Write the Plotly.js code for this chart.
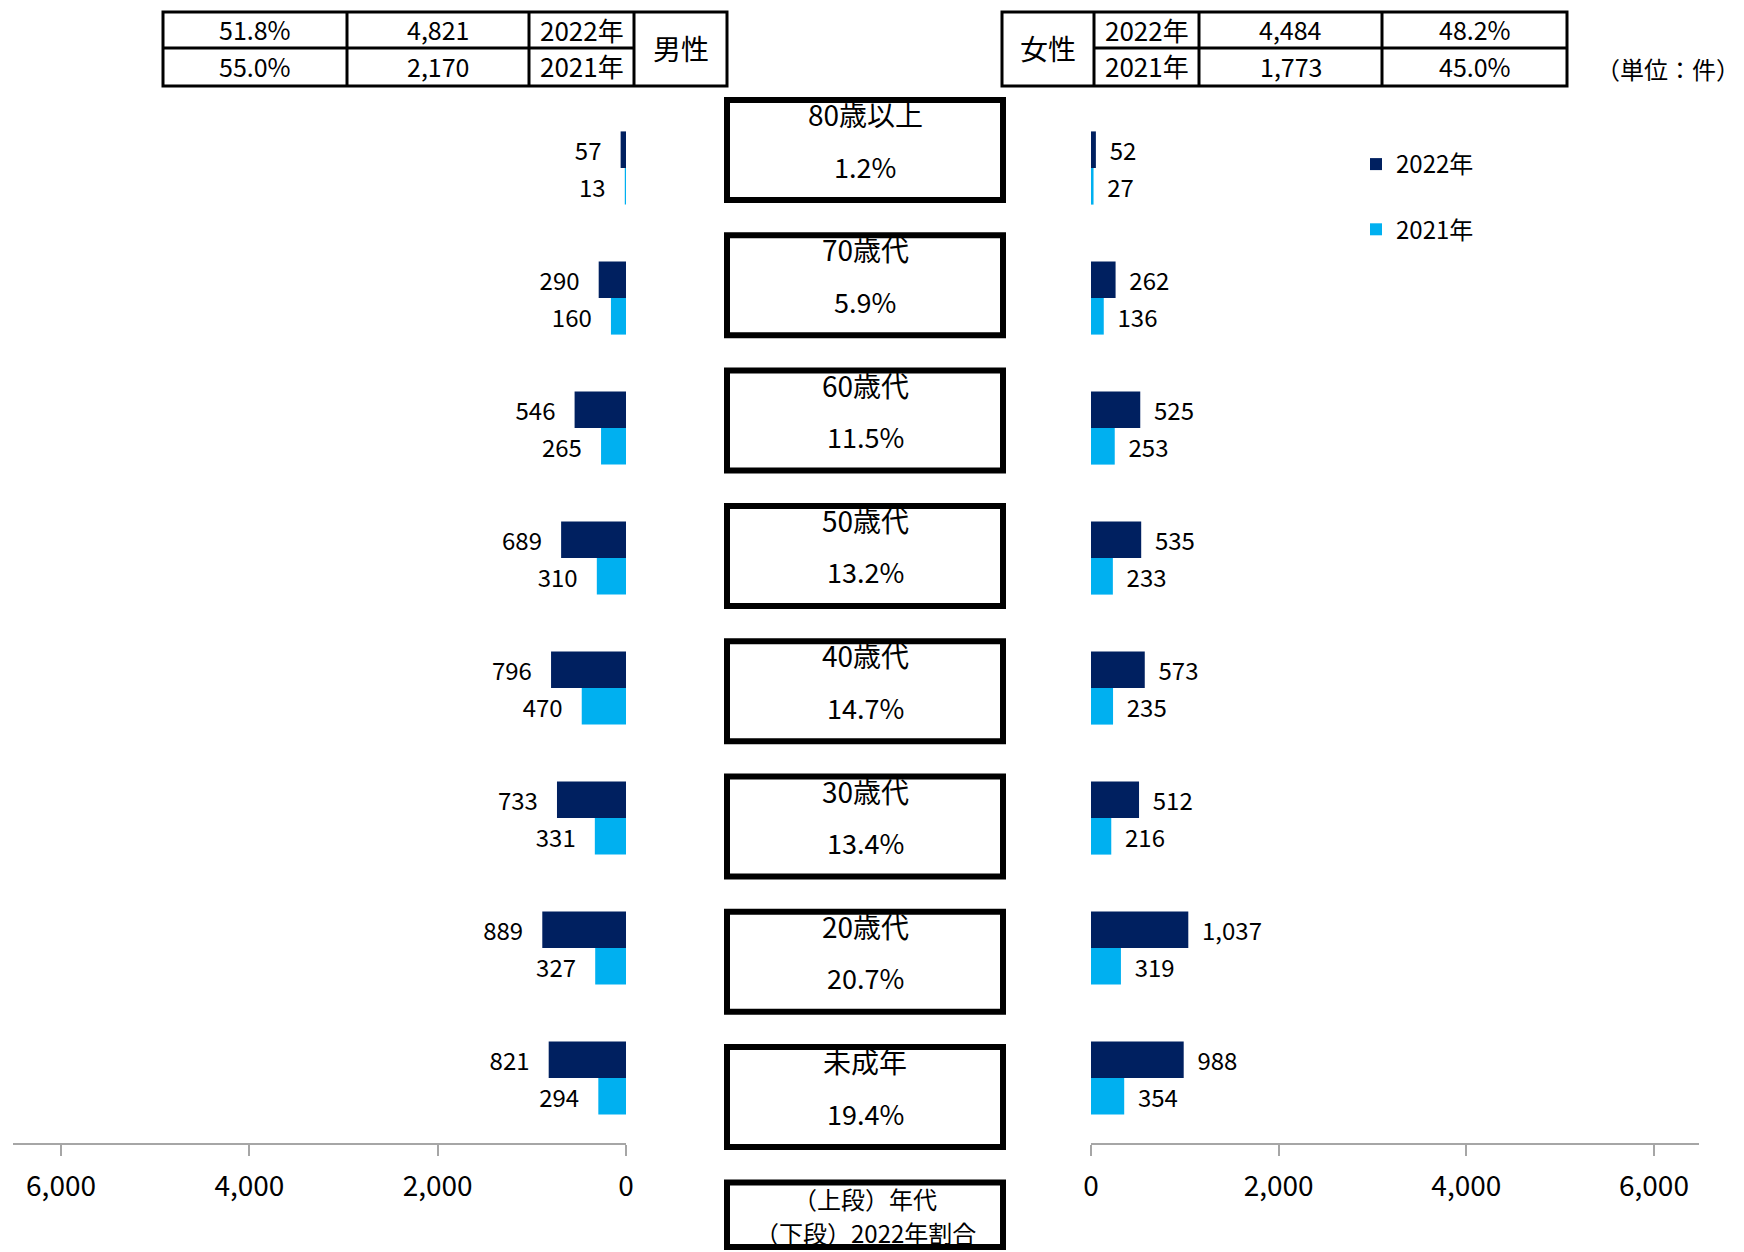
<!DOCTYPE html>
<html>
<head>
<meta charset="utf-8">
<script src="https://cdn.plot.ly/plotly-3.0.1.min.js"></script>
<style>html,body{margin:0;padding:0;background:#fff;}#chart{width:1744px;height:1252px;}</style>
</head>
<body>
<div id="chart"></div>
<script>
// ---- data ----
const categories = ["80歳以上","70歳代","60歳代","50歳代","40歳代","30歳代","20歳代","未成年"];
const share2022 = ["1.2%","5.9%","11.5%","13.2%","14.7%","13.4%","20.7%","19.4%"];
const male2022 = [57, 290, 546, 689, 796, 733, 889, 821];
const male2021 = [13, 160, 265, 310, 470, 331, 327, 294];
const female2022 = [52, 262, 525, 535, 573, 512, 1037, 988];
const female2021 = [27, 136, 253, 233, 235, 216, 319, 354];
const years = ["2022年","2021年"];
const maleTotals = [4821, 2170];
const maleShare = ["51.8%","55.0%"];
const femaleTotals = [4484, 1773];
const femaleShare = ["48.2%","45.0%"];
const tickVals = [0, 2000, 4000, 6000];
const legendBoxLines = ["（上段）年代","（下段）2022年割合"];
const unitText = "（単位：件）";

// ---- style ----
const W = 1744, H = 1252;
const C22 = "#002060", C21 = "#00b0f0";
const FONT = "Noto Sans CJK JP, Noto Sans, sans-serif";
const px = x => x / W;
const py = y => 1 - y / H;
const NBL = "\u00a0\u00a0\u00a0";
const NBR = "\u00a0\u00a0";

const traces = [
  {type:"bar", orientation:"h", name:years[0], x:male2022, y:categories, xaxis:"x", yaxis:"y",
   marker:{color:C22}, texttemplate:"%{x:,}"+NBL, textposition:"outside",
   showlegend:false, hoverinfo:"skip"},
  {type:"bar", orientation:"h", name:years[1], x:male2021, y:categories, xaxis:"x", yaxis:"y",
   marker:{color:C21}, texttemplate:"%{x:,}"+NBL, textposition:"outside",
   showlegend:false, hoverinfo:"skip"},
  {type:"bar", orientation:"h", name:years[0], x:female2022, y:categories, xaxis:"x2", yaxis:"y",
   marker:{color:C22}, texttemplate:NBR+"%{x:,}", textposition:"outside",
   legendgroup:"a", showlegend:true, hoverinfo:"skip"},
  {type:"bar", orientation:"h", name:years[1], x:female2021, y:categories, xaxis:"x2", yaxis:"y",
   marker:{color:C21}, texttemplate:NBR+"%{x:,}", textposition:"outside",
   legendgroup:"b", showlegend:true, hoverinfo:"skip"}
];
traces.forEach(t => { t.textfont = {size:24, color:"#000", family:FONT}; t.cliponaxis = false; t.constraintext = "none"; });

const axisStyle = {
  tickvals: tickVals, tickformat: ",", showgrid:false, zeroline:false,
  showline:true, linecolor:"#a6a6a6", linewidth:2,
  ticks:"outside", ticklen:11, tickwidth:2, tickcolor:"#a6a6a6",
  tickfont:{size:28, color:"#000", family:FONT}, ticklabelstandoff:6,
  anchor:"y", fixedrange:true
};

const shapes = [];
const annotations = [];

// center boxes
const boxTop0 = 97, boxPitch = 135.3;
categories.forEach((c, i) => {
  const top = boxTop0 + i * boxPitch;
  shapes.push({type:"rect", xref:"paper", yref:"paper", x0:px(727), x1:px(1003), y0:py(top+3), y1:py(top+103),
    line:{color:"#000", width:6}, fillcolor:"rgba(0,0,0,0)"});
  annotations.push({xref:"paper", yref:"paper", x:px(865), y:py(top+17), text:c, showarrow:false,
    xanchor:"center", yanchor:"middle", font:{size:28, color:"#000", family:FONT}});
  annotations.push({xref:"paper", yref:"paper", x:px(865), y:py(top+69), text:share2022[i], showarrow:false,
    xanchor:"center", yanchor:"middle", font:{size:27, color:"#000", family:FONT}});
});
// legend box at bottom
{
  const top = boxTop0 + categories.length * boxPitch;
  shapes.push({type:"rect", xref:"paper", yref:"paper", x0:px(727), x1:px(1003), y0:py(top+3), y1:py(1247),
    line:{color:"#000", width:6}, fillcolor:"rgba(0,0,0,0)"});
  annotations.push({xref:"paper", yref:"paper", x:px(865), y:py(1198), text:legendBoxLines[0], showarrow:false,
    xanchor:"center", yanchor:"middle", font:{size:24, color:"#000", family:FONT}});
  annotations.push({xref:"paper", yref:"paper", x:px(865), y:py(1232), text:legendBoxLines[1], showarrow:false,
    xanchor:"center", yanchor:"middle", font:{size:24, color:"#000", family:FONT}});
}

// tables
const tFont = {size:25, color:"#000", family:FONT};
function line(x0,y0,x1,y1){ shapes.push({type:"line", xref:"paper", yref:"paper", x0:px(x0), y0:py(y0), x1:px(x1), y1:py(y1), line:{color:"#000", width:3}}); }
function txt(x,y,t,f){ annotations.push({xref:"paper", yref:"paper", x:px(x), y:py(y), text:t, showarrow:false, xanchor:"center", yanchor:"middle", font:f||tFont}); }
const tTop = 12, tMid = 48, tBot = 86, rowY = [29, 66];
// male table
{
  const L = 163, c1 = 347, c2 = 529, c3 = 634, R = 727;
  shapes.push({type:"rect", xref:"paper", yref:"paper", x0:px(L), x1:px(R), y0:py(tBot), y1:py(tTop), line:{color:"#000", width:3}});
  line(c1,tTop,c1,tBot); line(c2,tTop,c2,tBot); line(c3,tTop,c3,tBot); line(L,tMid,c3,tMid);
  years.forEach((yr, r) => {
    txt((L+c1)/2, rowY[r], maleShare[r]);
    txt((c1+c2)/2, rowY[r], maleTotals[r].toLocaleString("en-US"));
    txt((c2+c3)/2, rowY[r], yr, {size:26, color:"#000", family:FONT});
  });
  txt((c3+R)/2, tMid, "男性", {size:28, color:"#000", family:FONT});
}
// female table
{
  const L = 1002, c1 = 1094, c2 = 1199, c3 = 1382, R = 1567;
  shapes.push({type:"rect", xref:"paper", yref:"paper", x0:px(L), x1:px(R), y0:py(tBot), y1:py(tTop), line:{color:"#000", width:3}});
  line(c1,tTop,c1,tBot); line(c2,tTop,c2,tBot); line(c3,tTop,c3,tBot); line(c1,tMid,R,tMid);
  txt((L+c1)/2, tMid, "女性", {size:28, color:"#000", family:FONT});
  years.forEach((yr, r) => {
    txt((c1+c2)/2, rowY[r], yr, {size:26, color:"#000", family:FONT});
    txt((c2+c3)/2, rowY[r], femaleTotals[r].toLocaleString("en-US"));
    txt((c3+R)/2, rowY[r], femaleShare[r]);
  });
}
txt(1668, 68, unitText, {size:24, color:"#000", family:FONT});

const layout = {
  width: W, height: H,
  margin:{l:0, r:0, t:0, b:0},
  paper_bgcolor:"#fff", plot_bgcolor:"rgba(0,0,0,0)",
  font:{family:FONT, color:"#000"},
  barmode:"group", bargap:0.437, bargroupgap:0,
  xaxis: Object.assign({}, axisStyle, {domain:[px(13), px(626)], range:[6510, 0]}),
  xaxis2: Object.assign({}, axisStyle, {domain:[px(1091), px(1699)], range:[0, 6480]}),
  yaxis: {domain:[py(1143), py(103)], type:"category", categoryorder:"array", categoryarray:categories,
          range:[7.5, -0.5], visible:false, fixedrange:true},
  showlegend:true,
  legend:{x:px(1356), y:py(142), xanchor:"left", yanchor:"top", traceorder:"grouped", tracegroupgap:31,
          font:{size:24, color:"#000", family:FONT}, bgcolor:"rgba(0,0,0,0)"},
  shapes: shapes,
  annotations: annotations
};

Plotly.newPlot("chart", traces, layout, {staticPlot:true, displayModeBar:false});
</script>
</body>
</html>
